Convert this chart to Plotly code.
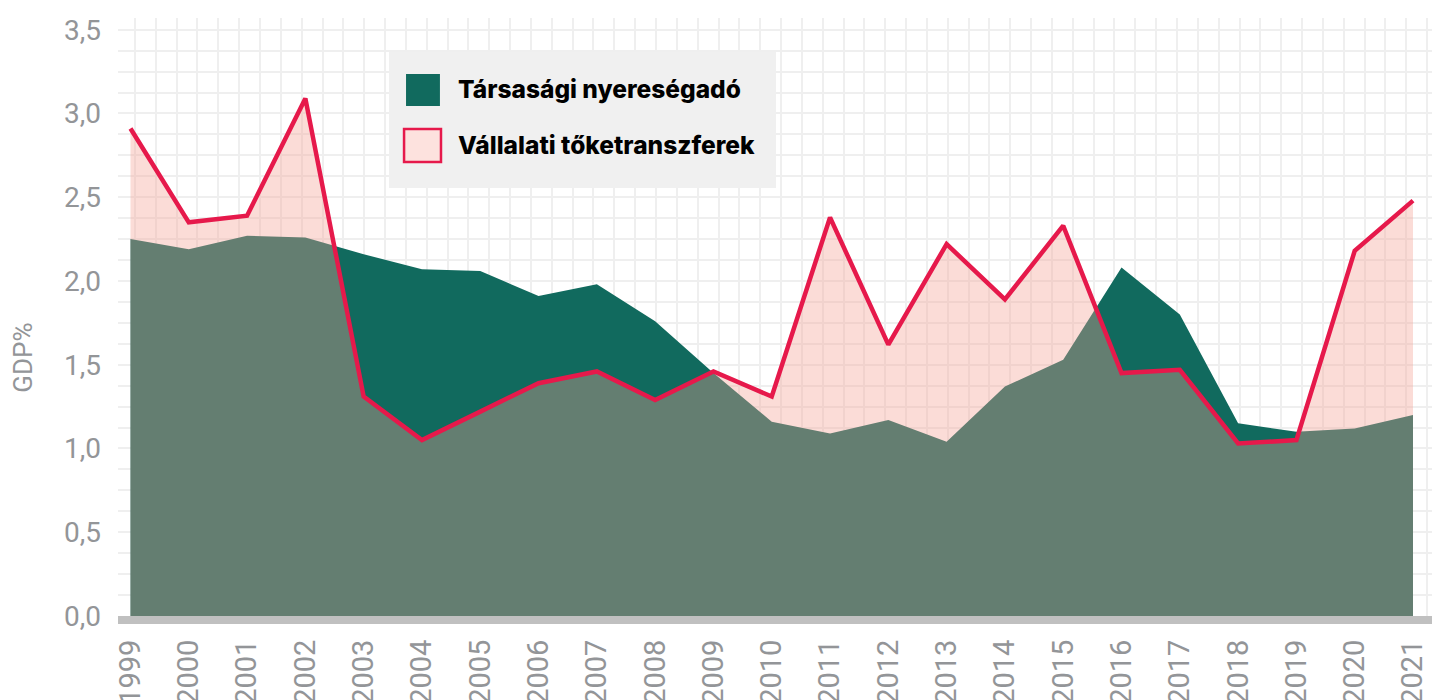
import plotly.graph_objects as go

years = list(range(1999, 2022))
year_labels = [str(y) for y in years]

# Társasági nyereségadó (GDP%)
tarsasagi = [2.25, 2.19, 2.27, 2.26, 2.16, 2.07, 2.06, 1.91, 1.98, 1.76, 1.45, 1.16,
             1.09, 1.17, 1.04, 1.37, 1.53, 2.08, 1.80, 1.15, 1.10, 1.12, 1.20]
# Vállalati tőketranszferek (GDP%)
toketranszfer = [2.91, 2.35, 2.39, 3.09, 1.31, 1.05, 1.22, 1.39, 1.46, 1.29, 1.46, 1.31,
                 2.38, 1.62, 2.22, 1.89, 2.33, 1.45, 1.47, 1.03, 1.05, 2.18, 2.48]

y_ticks = [0, 0.5, 1.0, 1.5, 2.0, 2.5, 3.0, 3.5]

GREEN = "#116a5e"
PINK_FILL = "rgba(243,160,146,0.37)"
RED = "#e6194b"
GREY_TXT = "#939598"
GRID = "#efefef"

fig = go.Figure()
fig.add_trace(go.Scatter(
    x=years, y=tarsasagi, mode="lines", name="Társasági nyereségadó",
    line=dict(width=0, color=GREEN), fill="tozeroy", fillcolor=GREEN,
    showlegend=False, hoverinfo="x+y"))
fig.add_trace(go.Scatter(
    x=years, y=toketranszfer, mode="lines", name="Vállalati tőketranszferek",
    line=dict(width=4.5, color=RED), fill="tozeroy", fillcolor=PINK_FILL,
    showlegend=False, hoverinfo="x+y"))

fig.update_layout(
    width=1432, height=700,
    margin=dict(l=118, r=0, t=18, b=84, autoexpand=False),
    paper_bgcolor="white", plot_bgcolor="white",
    separators=", ",
    showlegend=False,
    font=dict(family="Roboto", color=GREY_TXT),
)
fig.update_xaxes(
    automargin=False,
    range=[1998.786, 2021.326],
    tickmode="array", tickvals=years, ticktext=year_labels,
    tickangle=-90, tickfont=dict(size=29, color=GREY_TXT, family="Roboto"),
    showgrid=False, zeroline=False,
    showline=True, linecolor="#c0c0c0", linewidth=8,
    ticks="", ticklabelstandoff=4,
    minor=dict(showgrid=True, gridcolor=GRID, gridwidth=2,
               tick0=1999.077, dtick=0.3575),
)
fig.update_yaxes(
    automargin=False,
    range=[0, 3.57],
    tickmode="array", tickvals=y_ticks, ticktext=[f"{v:.1f}".replace(".", ",") for v in y_ticks],
    tickfont=dict(size=28, color=GREY_TXT, family="Roboto"),
    showgrid=True, gridcolor=GRID, gridwidth=2,
    zeroline=False, showline=False, ticks="", ticklabelstandoff=16,
    minor=dict(showgrid=True, gridcolor=GRID, gridwidth=2, tick0=0, dtick=0.125),
)

# axis title
fig.add_annotation(text="GDP%", xref="paper", yref="paper", x=-0.0723, y=0.432,
                   textangle=-90, showarrow=False, xanchor="center", yanchor="middle",
                   font=dict(size=26, color=GREY_TXT, family="Roboto"))

# custom legend box
fig.add_shape(type="rect", xref="paper", yref="paper", x0=0.2062, x1=0.5008, y0=0.7157, y1=0.9431,
              fillcolor="#f0f0f0", line=dict(width=0), layer="above")
fig.add_shape(type="rect", xref="paper", yref="paper", x0=0.2192, x1=0.2450, y0=0.8528, y1=0.9064,
              fillcolor=GREEN, line=dict(width=0), layer="above")
fig.add_shape(type="rect", xref="paper", yref="paper", x0=0.2177, x1=0.2458, y0=0.7592, y1=0.8144,
              fillcolor="#fde2de", line=dict(width=2.5, color=RED), layer="above")
fig.add_annotation(text="Társasági nyereségadó", xref="paper", yref="paper",
                   x=0.2572, y=0.8813, xanchor="left", yanchor="middle", showarrow=False,
                   font=dict(size=24.5, color="black", family="Inter", weight=800))
fig.add_annotation(text="Vállalati tőketranszferek", xref="paper", yref="paper",
                   x=0.2572, y=0.7876, xanchor="left", yanchor="middle", showarrow=False,
                   font=dict(size=24.5, color="black", family="Inter", weight=800))

fig.write_html("out.html", config={"displayModeBar": False},
               post_script="document.body.style.margin='0';document.body.style.overflow='hidden';")
